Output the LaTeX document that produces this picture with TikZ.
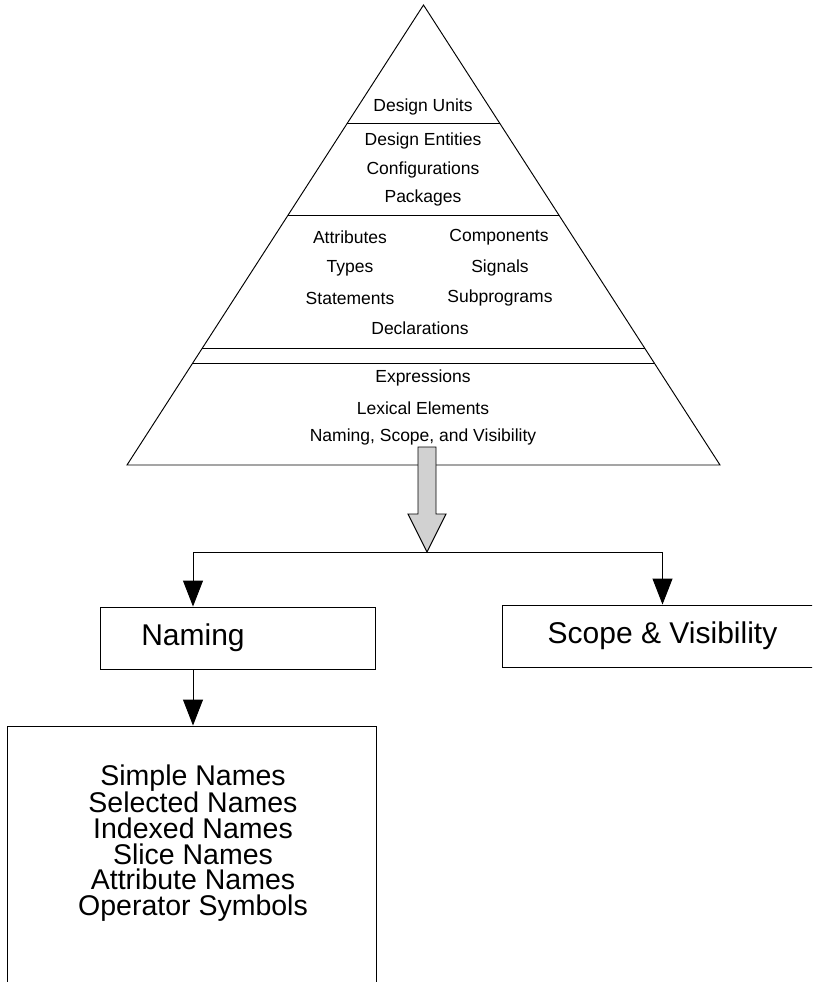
\documentclass[tikz,border=0pt]{standalone}
\usepackage{fontspec}
\setmainfont{Liberation Sans}
\usetikzlibrary{arrows.meta,calc}
\begin{document}
\begin{tikzpicture}[x=1pt,y=-1pt,
  line width=0.95pt,
  small/.style={inner sep=0pt,font=\fontsize{17.5}{21}\selectfont},
  big/.style={inner sep=0pt,align=center,font=\fontsize{30}{30}\selectfont},
  list/.style={inner sep=0pt,align=center,font=\fontsize{28.5}{25.6}\selectfont},
  panel/.style={draw,rectangle,inner sep=0pt},
  flow/.style={-{Triangle[length=26pt,width=20pt]}},
  bigarrow/.style={draw,fill=black!18,line join=miter}]
\useasboundingbox (0,0) rectangle (812,982);
\clip (0,0) rectangle (812,982);

% pyramid outline
\coordinate (apex) at (423.5,5);
\coordinate (bl) at (127,465);
\coordinate (br) at (720,465);
\draw[line join=miter] (apex) -- (bl) -- (br) -- cycle;

% layer separators
\draw ($(apex)!0.2565!(bl)$) -- ($(apex)!0.2565!(br)$);
\draw ($(apex)!0.4565!(bl)$) -- ($(apex)!0.4565!(br)$);
\draw ($(apex)!0.7457!(bl)$) -- ($(apex)!0.7457!(br)$);
\draw ($(apex)!0.7783!(bl)$) -- ($(apex)!0.7783!(br)$);

% layer labels
\node[small] (du)   at (423,107) {Design Units};
\node[small] (de)   at (423,141) {Design Entities};
\node[small] (cfg)  at (423,170) {Configurations};
\node[small] (pkg)  at (423,198) {Packages};
\node[small] (attr) at (350,237) {Attributes};
\node[small] (comp) at (499,237) {Components};
\node[small] (typ)  at (350,268) {Types};
\node[small] (sig)  at (500,268) {Signals};
\node[small] (stm)  at (350,298) {Statements};
\node[small] (sub)  at (500,298) {Subprograms};
\node[small] (decl) at (420,328) {Declarations};
\node[small] (expr) at (423,378) {Expressions};
\node[small] (lex)  at (423,408) {Lexical Elements};
\node[small] (nsv)  at (423,437) {Naming, Scope, and Visibility};

% shaded block arrow out of the base
\draw[bigarrow] (418,447) -- (436,447) -- (436,514) -- (446,514)
  -- (427,552) -- (408,514) -- (418,514) -- cycle;
\coordinate (split) at (427,552);

% boxes
\node[panel,minimum width=275pt,minimum height=62pt] (naming) at (237.5,638) {};
\node[big] (namingtxt) at (193,638) {Naming};
\node[panel,minimum width=330pt,minimum height=62pt] (scope) at (667,636) {};
\node[big] (scopetxt) at (662.5,636) {Scope \& Visibility};
\node[panel,minimum width=369pt,minimum height=300pt] (names) at (191.5,876) {};
\node[list] (namestxt) at (193,843) {Simple Names\\Selected Names\\Indexed Names\\Slice Names\\Attribute Names\\Operator Symbols};

% connectors
\draw[flow] (split) -| (namingtxt |- naming.north);
\draw[flow] (split) -| (scopetxt |- scope.north);
\draw[flow] (namingtxt |- naming.south) -- (namingtxt |- names.north);
\end{tikzpicture}
\end{document}
